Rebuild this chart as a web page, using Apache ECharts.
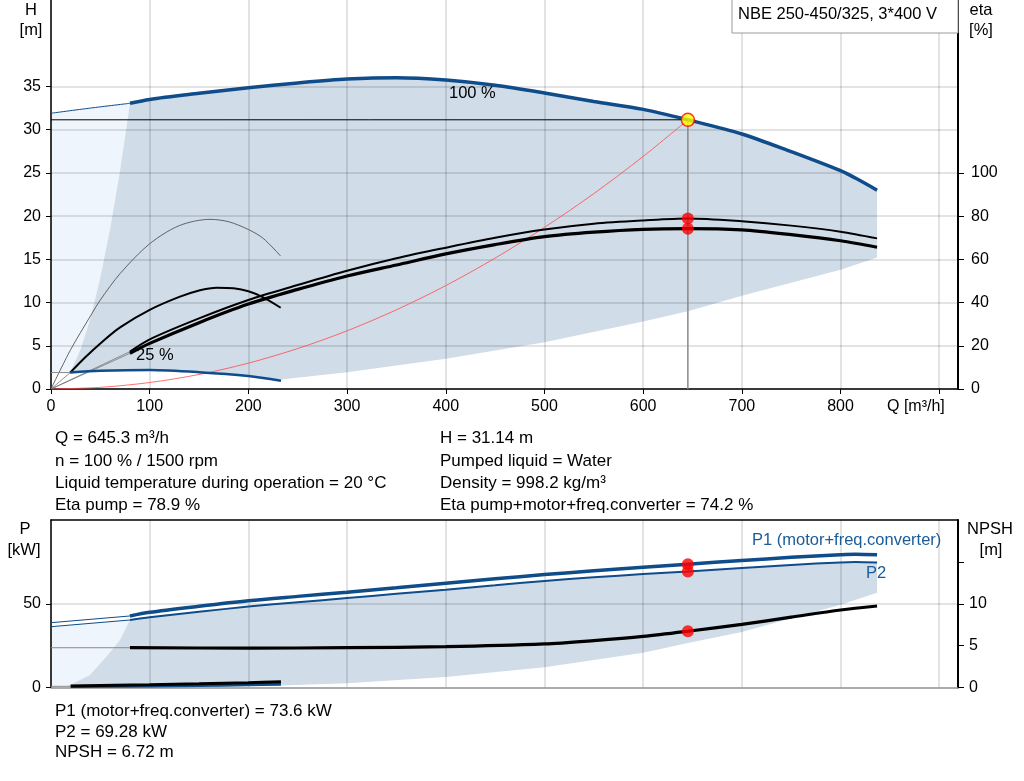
<!DOCTYPE html>
<html><head><meta charset="utf-8">
<script src="https://cdn.jsdelivr.net/npm/echarts@6/dist/echarts.min.js"></script>
<style>html,body{margin:0;padding:0;background:#fff}#c{width:1024px;height:781px}</style>
</head><body><div id="c"></div>
<script>
// ---------- Top chart data (Q in m³/h, H in m, eta in %) ----------
const qH100Thin = [0, 40, 80];
const h100Thin  = [31.9, 32.5, 33.05];
const qH100 = [80,100,150,200,250,300,350,400,450,500,550,600,645.3,700,750,800,815,837];
const h100  = [33.05,33.5,34.2,34.85,35.4,35.85,36.02,35.75,35.15,34.25,33.25,32.35,31.14,29.5,27.45,25.25,24.4,23.0];

const qH25Thin = [0, 19.5];
const h25Thin  = [1.9, 1.9];
const qH25 = [19.5, 50, 100, 150, 200, 233];
const h25  = [1.9, 2.1, 2.2, 1.95, 1.5, 0.96];

const qMinH = [19.5, 30, 40, 50, 60, 70, 80];
const hMin  = [1.9, 4.6, 8.2, 12.9, 18.6, 25.3, 33.05];
const qLowH = [233, 300, 400, 500, 600, 645.3, 700, 800, 837];
const hLow  = [1.1, 1.95, 3.5, 5.4, 7.8, 9.0, 10.8, 13.8, 15.2];

const qEta = [80,100,150,200,250,300,350,400,450,500,550,600,645.3,700,750,800,837];
const etaPump  = [17.3,23.0,32.7,41.2,48.1,54.7,60.5,65.4,70.0,73.8,76.5,78.0,78.9,77.6,75.6,72.8,69.7];
const etaTotal = [16.5,21.1,30.7,39.3,46.1,52.3,57.4,62.5,66.8,70.5,72.6,73.9,74.2,73.6,71.4,68.6,65.6];
const qEtaThin = [0, 80];
const etaPumpThin  = [0, 17.3];
const etaTotalThin = [0, 16.5];

const qEta25P  = [0,20,40,50,70,100,130,161,180,200,215,232.7];
const etaPump25 = [0,18.3,33.8,41.2,53.4,67.2,75.6,78.5,77.4,73.8,69.7,61.5];
const qEta25TThin = [0, 19.3];
const eta25TThin  = [0, 7.5];
const qEta25T = [19.3,35,50,70,100,130,150,168,185,200,215,232.7];
const etaTot25 = [7.5,14.8,21.1,28.5,36.6,42.6,45.6,46.9,46.6,45.2,42.4,37.6];

const qSys = [0,50,100,150,200,250,300,350,400,450,500,550,600,645.3];
const hSys = [0,0.19,0.75,1.68,2.99,4.68,6.73,9.16,11.96,15.14,18.7,22.6,26.9,31.14];

// operating point
const opQ = 645.3, opH = 31.14, opEtaPump = 78.9, opEtaTot = 74.2, opP1 = 73.6, opP2 = 69.28, opNPSH = 6.72;

// ---------- Bottom chart data (P in kW, NPSH in m) ----------
const qPThin = [0, 80];
const p1Thin = [38.7, 42.7];
const p2Thin = [36.3, 40.3];
const qP = [80,100,150,200,250,300,350,400,450,500,550,600,645.3,700,750,800,815,837];
const p1 = [42.7,44.9,48.5,51.8,54.4,56.9,59.5,62.2,64.9,67.4,69.7,71.8,73.6,75.8,77.7,79.2,79.5,79.2];
const p2 = [40.3,41.9,45.2,48.3,50.9,53.4,55.9,58.4,61.0,63.6,65.8,67.7,69.28,71.3,73.2,74.7,74.9,74.6];
const qNThin = [0, 80];
const nThin  = [4.75, 4.75];
const qN = [80,200,300,400,500,550,600,645.3,700,750,800,837];
const npsh = [4.75,4.7,4.75,4.87,5.2,5.6,6.1,6.72,7.54,8.4,9.25,9.73];
const qMinP = [16, 22.6, 39.5, 56.4, 69.9, 78.3, 80];
const pMin  = [0.8, 2.5, 7.5, 18.6, 28.4, 38.3, 40.3];
const qLowP = [233,300,400,500,600,645.3,700,800,837];
const pLow  = [1.2,2.6,6.2,12.1,20.8,26.5,33.1,49.4,56.6];
const qP25Thin = [0, 20];
const p25Thin  = [0.7, 0.7];
const qP25 = [20,100,150,200,233];
const p25Blue  = [0.6,0.9,1.2,1.6,1.9];
const p25Black = [0.9,1.6,2.2,2.9,3.5];

// ---------- Axis tick values ----------
const qTicks = [0,100,200,300,400,500,600,700,800,900];
const qLabels = [0,100,200,300,400,500,600,700,800];
const hTicks = [0,5,10,15,20,25,30,35];
const etaTicks = [0,20,40,60,80,100];
const pTicks = [0,50];
const nTicks = [0,5,10,15];
const nLabels = [0,5,10];

const FONT = "'Liberation Sans', Arial, sans-serif";
const BLUE = '#0f4c8a';
const DARK = '#d0dce7';
const LIGHT = '#eef5fc';
const GRIDC = 'rgba(0,0,0,0.15)';

function P(q, v) { return q.map((x, i) => [x, v[i]]); }
function ln(data, color, width, xi, yi, extra) {
  return Object.assign({type:'line', data, xAxisIndex:xi, yAxisIndex:yi, symbol:'none', showSymbol:false,
    silent:true, smooth:0.3, z:3, lineStyle:{color, width}}, extra || {});
}
function area(pts, fill, xi, yi, z) {
  return {type:'custom', xAxisIndex:xi, yAxisIndex:yi, silent:true, z, data:[[0,0]],
    renderItem: (params, api) => ({type:'polygon', shape:{points: pts.map(p => api.coord(p))}, style:{fill}})};
}
function dots(data, xi, yi) {
  return {type:'scatter', data, xAxisIndex:xi, yAxisIndex:yi, symbolSize:12, silent:true, z:6,
    itemStyle:{color:'#ff0000'}};
}

const darkTop = [].concat(P(qMinH,hMin), P(qH100,h100).slice(1), P(qLowH,hLow).reverse(), P(qH25,h25).reverse());
const lightTop = [[0, h25Thin[0]]].concat(P(qH100Thin,h100Thin), P(qMinH,hMin).reverse().slice(1));
const darkBot = [].concat(P(qMinP,pMin), P(qP,p2).slice(1), P(qLowP,pLow).reverse(), P(qP25,p25Blue).reverse());
const lightBot = [[0, p25Thin[0]]].concat(P(qPThin,p2Thin), P(qMinP,pMin).reverse().slice(1));

const lbl = (fmtMax) => ({color:'#000', fontSize:16, fontFamily:FONT,
  formatter: v => (v > fmtMax ? '' : String(v))});

const option = {
  animation:false,
  backgroundColor:'#fff',
  grid:[{left:51, right:66, top:0, height:389}, {left:51, right:66, top:520, height:167.5}],
  xAxis:[
    {gridIndex:0, type:'value', min:0, max:919, interval:100,
     axisLine:{onZero:false, lineStyle:{color:'#000', width:1.5}},
     axisTick:{length:5, lineStyle:{color:'#000'}, customValues:qTicks},
     axisLabel:Object.assign(lbl(800), {margin:10, customValues:qLabels}),
     splitLine:{show:true, lineStyle:{color:GRIDC, width:1.5}}},
    {gridIndex:1, type:'value', position:'bottom', min:0, max:919, interval:100,
     axisLine:{onZero:false, lineStyle:{color:'#999', width:1.5}}, axisTick:{show:false}, axisLabel:{show:false},
     splitLine:{show:true, lineStyle:{color:GRIDC, width:1.5}}},
    {gridIndex:1, type:'value', position:'top', min:0, max:919,
     axisLine:{onZero:false, lineStyle:{color:'#000', width:1.5}}, axisTick:{show:false}, axisLabel:{show:false}, splitLine:{show:false}}
  ],
  yAxis:[
    {gridIndex:0, type:'value', position:'left', min:0, max:45, interval:5,
     axisLine:{show:true, onZero:false, lineStyle:{color:'#000', width:1.5}},
     axisTick:{show:true, length:5, lineStyle:{color:'#000'}, customValues:hTicks},
     axisLabel:Object.assign(lbl(35), {margin:10, customValues:hTicks}),
     splitLine:{show:true, lineStyle:{color:GRIDC, width:1.5}}},
    {gridIndex:0, type:'value', position:'right', min:0, max:180, interval:20,
     axisLine:{show:true, onZero:false, lineStyle:{color:'#000', width:2}},
     axisTick:{show:true, length:6, lineStyle:{color:'#000'}, customValues:etaTicks},
     axisLabel:Object.assign(lbl(100), {margin:13, customValues:etaTicks}),
     splitLine:{show:false}},
    {gridIndex:1, type:'value', position:'left', min:0, max:100, interval:50,
     axisLine:{show:true, onZero:false, lineStyle:{color:'#000', width:1.5}},
     axisTick:{show:true, length:5, lineStyle:{color:'#000'}, customValues:pTicks},
     axisLabel:Object.assign(lbl(50), {margin:10, customValues:pTicks}),
     splitLine:{show:true, lineStyle:{color:GRIDC, width:1.5}}},
    {gridIndex:1, type:'value', position:'right', min:0, max:20, interval:5,
     axisLine:{show:true, onZero:false, lineStyle:{color:'#000', width:2}},
     axisTick:{show:true, length:6, lineStyle:{color:'#000'}, customValues:nTicks},
     axisLabel:Object.assign(lbl(10), {margin:11, customValues:nLabels}),
     splitLine:{show:false}}
  ],
  series:[
    // top areas
    area(lightTop, LIGHT, 0, 0, -2),
    area(darkTop, DARK, 0, 0, -1),
    // system curve
    ln(P(qSys,hSys), '#ff4a4a', 0.8, 0, 0),
    // 25% efficiency curves
    ln(P(qEta25P,etaPump25), '#555', 0.9, 0, 1),
    ln(P(qEta25TThin,eta25TThin), '#777', 0.8, 0, 1, {smooth:false}),
    ln(P(qEta25T,etaTot25), '#000', 2, 0, 1),
    // 100% efficiency curves
    ln(P(qEtaThin,etaPumpThin), '#777', 0.8, 0, 1, {smooth:false}),
    ln(P(qEtaThin,etaTotalThin), '#777', 0.8, 0, 1, {smooth:false}),
    ln(P(qEta,etaPump), '#000', 2, 0, 1),
    ln(P(qEta,etaTotal), '#000', 3.2, 0, 1),
    // H curves
    ln(P(qH25Thin,h25Thin), '#8a8a8a', 1, 0, 0, {smooth:false}),
    ln(P(qH25,h25), BLUE, 2.5, 0, 0),
    ln(P(qH100Thin,h100Thin), BLUE, 1, 0, 0),
    ln(P(qH100,h100), BLUE, 3.5, 0, 0),
    // operating lines
    ln([[0,opH],[opQ,opH]], '#000', 1, 0, 0, {smooth:false, z:4}),
    ln([[opQ,0],[opQ,opH]], '#888', 1.5, 0, 0, {smooth:false, z:2}),
    dots([[opQ,opEtaPump],[opQ,opEtaTot]], 0, 1),
    {type:'scatter', data:[[opQ,opH]], xAxisIndex:0, yAxisIndex:0, symbolSize:13, silent:true, z:7,
     itemStyle:{color:'#ffff00', borderColor:'#ff0000', borderWidth:1.5}},
    // bottom areas
    area(lightBot, LIGHT, 1, 2, -2),
    area(darkBot, DARK, 1, 2, -1),
    // bottom lines
    ln(P(qP25Thin,p25Thin), '#8a8a8a', 1, 1, 2, {smooth:false}),
    ln(P(qP25,p25Blue), BLUE, 3, 1, 2),
    ln(P(qP25,p25Black), '#000', 3, 1, 2),
    ln(P(qNThin,nThin), '#8a8a8a', 1, 1, 3, {smooth:false}),
    ln(P(qN,npsh), '#000', 3.2, 1, 3),
    ln(P(qPThin,p1Thin), BLUE, 1, 1, 2, {smooth:false}),
    ln(P(qPThin,p2Thin), BLUE, 1, 1, 2, {smooth:false}),
    ln(P(qP,p1), BLUE, 3.5, 1, 2),
    ln(P(qP,p2), BLUE, 2, 1, 2),
    dots([[opQ,opP1],[opQ,opP2]], 1, 2),
    dots([[opQ,opNPSH]], 1, 3)
  ],
  graphic:[
    {type:'rect', z:100, shape:{x:732, y:-1, width:226, height:34}, style:{fill:'#fff', stroke:'#9a9a9a', lineWidth:1}},
    {type:'text', z:101, x:738, y:14, style:{text:'NBE 250-450/325, 3*400 V', font:'16.5px '+FONT, fill:'#000', verticalAlign:'middle'}},
    {type:'text', z:101, x:31, y:10, style:{text:'H', font:'16.5px '+FONT, fill:'#000', align:'center', verticalAlign:'middle'}},
    {type:'text', z:101, x:31, y:30, style:{text:'[m]', font:'16.5px '+FONT, fill:'#000', align:'center', verticalAlign:'middle'}},
    {type:'text', z:101, x:981, y:10, style:{text:'eta', font:'16.5px '+FONT, fill:'#000', align:'center', verticalAlign:'middle'}},
    {type:'text', z:101, x:981, y:30, style:{text:'[%]', font:'16.5px '+FONT, fill:'#000', align:'center', verticalAlign:'middle'}},
    {type:'text', z:101, x:887, y:407, style:{text:'Q [m³/h]', font:'16px '+FONT, fill:'#000', verticalAlign:'middle'}},
    {type:'text', z:101, x:449, y:93, style:{text:'100 %', font:'16.5px '+FONT, fill:'#000', verticalAlign:'middle'}},
    {type:'text', z:101, x:136, y:355, style:{text:'25 %', font:'16.5px '+FONT, fill:'#000', verticalAlign:'middle'}},
    {type:'text', z:101, x:55, y:438, style:{text:'Q = 645.3 m³/h', font:'17px '+FONT, fill:'#000', verticalAlign:'middle'}},
    {type:'text', z:101, x:55, y:461, style:{text:'n = 100 % / 1500 rpm', font:'17px '+FONT, fill:'#000', verticalAlign:'middle'}},
    {type:'text', z:101, x:55, y:483, style:{text:'Liquid temperature during operation = 20 °C', font:'17px '+FONT, fill:'#000', verticalAlign:'middle'}},
    {type:'text', z:101, x:55, y:505, style:{text:'Eta pump = 78.9 %', font:'17px '+FONT, fill:'#000', verticalAlign:'middle'}},
    {type:'text', z:101, x:440, y:438, style:{text:'H = 31.14 m', font:'17px '+FONT, fill:'#000', verticalAlign:'middle'}},
    {type:'text', z:101, x:440, y:461, style:{text:'Pumped liquid = Water', font:'17px '+FONT, fill:'#000', verticalAlign:'middle'}},
    {type:'text', z:101, x:440, y:483, style:{text:'Density = 998.2 kg/m³', font:'17px '+FONT, fill:'#000', verticalAlign:'middle'}},
    {type:'text', z:101, x:440, y:505, style:{text:'Eta pump+motor+freq.converter = 74.2 %', font:'17px '+FONT, fill:'#000', verticalAlign:'middle'}},
    {type:'text', z:101, x:25, y:529, style:{text:'P', font:'16.5px '+FONT, fill:'#000', align:'center', verticalAlign:'middle'}},
    {type:'text', z:101, x:24, y:550, style:{text:'[kW]', font:'16.5px '+FONT, fill:'#000', align:'center', verticalAlign:'middle'}},
    {type:'text', z:101, x:990, y:529, style:{text:'NPSH', font:'16.5px '+FONT, fill:'#000', align:'center', verticalAlign:'middle'}},
    {type:'text', z:101, x:991, y:550, style:{text:'[m]', font:'16.5px '+FONT, fill:'#000', align:'center', verticalAlign:'middle'}},
    {type:'text', z:101, x:752, y:540, style:{text:'P1 (motor+freq.converter)', font:'16.5px '+FONT, fill:'#1a5c99', verticalAlign:'middle'}},
    {type:'text', z:101, x:866, y:573, style:{text:'P2', font:'16.5px '+FONT, fill:'#1a5c99', verticalAlign:'middle'}},
    {type:'text', z:101, x:55, y:711, style:{text:'P1 (motor+freq.converter) = 73.6 kW', font:'17px '+FONT, fill:'#000', verticalAlign:'middle'}},
    {type:'text', z:101, x:55, y:732, style:{text:'P2 = 69.28 kW', font:'17px '+FONT, fill:'#000', verticalAlign:'middle'}},
    {type:'text', z:101, x:55, y:752, style:{text:'NPSH = 6.72 m', font:'17px '+FONT, fill:'#000', verticalAlign:'middle'}}
  ]
};
const chart = echarts.init(document.getElementById('c'), null, {renderer:'canvas'});
chart.setOption(option);
</script></body></html>
